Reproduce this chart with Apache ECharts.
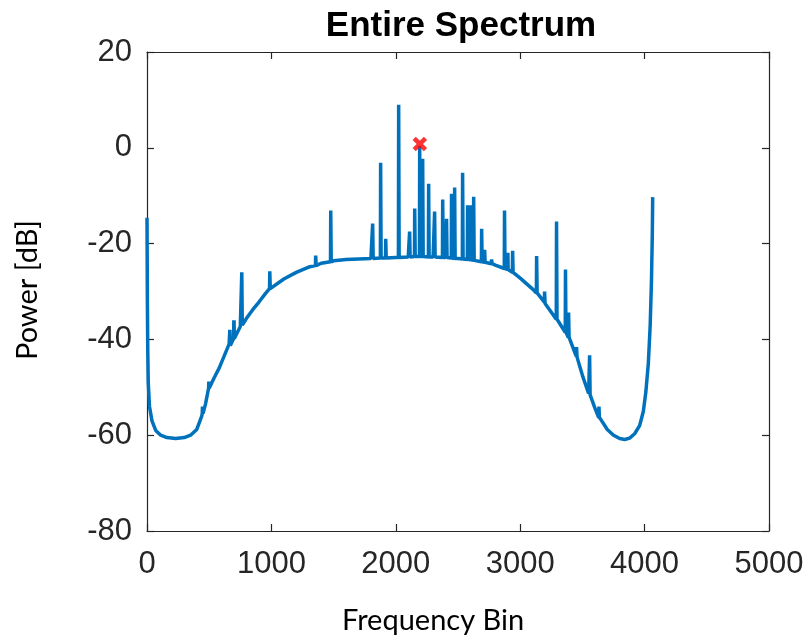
<!DOCTYPE html>
<html>
<head>
<meta charset="utf-8">
<title>Entire Spectrum</title>
<script src="https://cdn.jsdelivr.net/npm/echarts@6/dist/echarts.min.js"></script>
<style>
  html, body { margin: 0; padding: 0; background: #fff; }
  #chart { width: 810px; height: 643px; }
</style>
</head>
<body>
<div id="chart"></div>
<script>
    // noise floor of the spectrum, [bin, dB]
    const floorBins = [0, 3, 6, 10, 20, 40, 70, 110, 160, 230, 300, 350, 400, 440, 470, 500, 540, 580, 620, 660,
        700, 750, 800, 850, 900, 950, 1000, 1100, 1200, 1300, 1400, 1500, 1600, 1700, 1800, 1900, 2000, 2100,
        2200, 2300, 2400, 2500, 2600, 2700, 2800, 2900, 3000, 3100, 3200, 3300, 3400, 3450, 3500, 3550, 3600,
        3650, 3700, 3750, 3800, 3840, 3880, 3920, 3960, 3990, 4010, 4030, 4045, 4055, 4062, 4065];
    const floorDb = [-14.6, -32, -42, -49, -54, -57, -59, -60, -60.5, -60.7, -60.5, -60, -58.8, -56, -53.5, -50.2, -48, -46, -43.5, -41,
        -39.5, -37.3, -35.6, -33.8, -32.2, -30.5, -29.2, -27.4, -26, -24.9, -24.1, -23.6, -23.3, -23.2, -23.1, -23, -22.9, -22.8,
        -22.7, -22.8, -22.9, -23.1, -23.4, -23.9, -24.5, -25.4, -27.2, -29.5, -32.5, -36, -40, -43.5, -47.5, -51.3, -54.3,
        -56.8, -58.8, -60, -60.7, -60.9, -60.6, -59.7, -58, -55, -51, -45, -37, -28, -18, -10.3];

    // tones sticking out of the floor
    const spikeBins = [447, 498, 667, 699, 763, 988, 1357, 1478, 1815, 1879, 1920, 2024, 2112, 2153, 2193, 2217, 2265,
        2313, 2378, 2409, 2449, 2474, 2538, 2578, 2602, 2627, 2691, 2715, 2771, 2875, 2900, 2940, 3133, 3197,
        3293, 3365, 3390, 3454, 3559, 3634];
    const spikeBase = [-55.5, -50.2, -41.3, -39.8, -37, -29.4, -24.6, -23.8, -23.1, -23, -23, -22.9, -22.8, -22.7, -22.7, -22.7, -22.8,
        -22.8, -22.9, -22.9, -23, -23.1, -23.2, -23.3, -23.4, -23.5, -23.8, -23.9, -24.2, -25.2, -25.4, -26, -30.3, -32.2,
        -35.8, -38.5, -39.6, -43.7, -51.6, -56.3];
    const spikePeak = [-54, -48.8, -38, -36, -26, -25.8, -22.5, -13.1, -15.8, -3.1, -19, 9, -17.5, -12.7, 0.4, -2.3, -7.5,
        -13.3, -10.8, -14.8, -9.6, -8.3, -5.2, -12, -12, -10.2, -16.9, -21.3, -23.3, -13.1, -21.9, -21.5, -22.6, -30,
        -15.4, -25.4, -34.4, -41.6, -43.3, -54];

    // detected peak
    const peakMark = [[2193, 0.8]];

    const xTicks = { min: 0, max: 5000, step: 1000 };
    const yTicks = { min: -80, max: 20, step: 20 };

    const pts = [];
    floorBins.forEach((b, i) => pts.push([b, floorDb[i]]));
    spikeBins.forEach((b, i) => {
        pts.push([b - 3, spikeBase[i]]);
        pts.push([b - 1, spikePeak[i]]);
        pts.push([b + 1, spikePeak[i]]);
        pts.push([b + 3, spikeBase[i]]);
    });
    pts.sort((a, b) => a[0] - b[0]);

    const axisColor = '#262626';
    const tickFont = {
        fontFamily: '"Liberation Sans", Arial, sans-serif',
        fontSize: 31,
        color: axisColor
    };

    function xAxisCfg(pos, showLabel) {
        return {
            type: 'value',
            position: pos,
            min: xTicks.min,
            max: xTicks.max,
            interval: xTicks.step,
            axisLine: { show: true, onZero: false, lineStyle: { color: axisColor, width: 1.2 } },
            axisTick: { show: true, inside: true, length: 7, lineStyle: { color: axisColor, width: 1.2 } },
            axisLabel: Object.assign({ show: showLabel, margin: 18, formatter: v => String(v) }, tickFont),
            splitLine: { show: false }
        };
    }

    function yAxisCfg(pos, showLabel) {
        return {
            type: 'value',
            position: pos,
            min: yTicks.min,
            max: yTicks.max,
            interval: yTicks.step,
            axisLine: { show: true, onZero: false, lineStyle: { color: axisColor, width: 1.2 } },
            axisTick: { show: true, inside: true, length: 7, lineStyle: { color: axisColor, width: 1.2 } },
            axisLabel: Object.assign({ show: showLabel, margin: 15 }, tickFont),
            splitLine: { show: false }
        };
    }

    const chart = echarts.init(document.getElementById('chart'), null, { renderer: 'canvas' });
    chart.setOption({
        animation: false,
        backgroundColor: '#ffffff',
        title: {
            text: 'Entire Spectrum',
            left: 456,
            textAlign: 'center',
            top: 4,
            textStyle: {
                fontFamily: '"Liberation Sans", Arial, sans-serif',
                fontWeight: 'bold',
                fontSize: 35,
                color: '#000'
            }
        },
        grid: { left: 147, right: 41, top: 52, bottom: 112 },
        xAxis: [xAxisCfg('bottom', true), xAxisCfg('top', false)],
        yAxis: [yAxisCfg('left', true), yAxisCfg('right', false)],
        graphic: [
            {
                type: 'text',
                left: 342,
                top: 606,
                style: {
                    text: 'Frequency Bin',
                    font: '29px Lato, "Open Sans", sans-serif',
                    fill: '#000'
                }
            },
            {
                type: 'text',
                x: 13,
                y: 360,
                rotation: Math.PI / 2,
                style: {
                    text: 'Power [dB]',
                    font: '29px Lato, "Open Sans", sans-serif',
                    fill: '#000'
                }
            }
        ],
        series: [
            {
                name: 'spectrum',
                type: 'line',
                data: pts,
                showSymbol: false,
                symbol: 'none',
                lineStyle: { color: '#0072BD', width: 3.5 },
                z: 2
            },
            {
                name: 'peak',
                type: 'scatter',
                data: peakMark,
                symbol: 'path://M3.6,0H6.4V3.6H10V6.4H6.4V10H3.6V6.4H0V3.6H3.6Z',
                symbolSize: 16,
                symbolRotate: 45,
                itemStyle: { color: '#FF0000' },
                z: 3
            }
        ]
    });
</script>
</body>
</html>
